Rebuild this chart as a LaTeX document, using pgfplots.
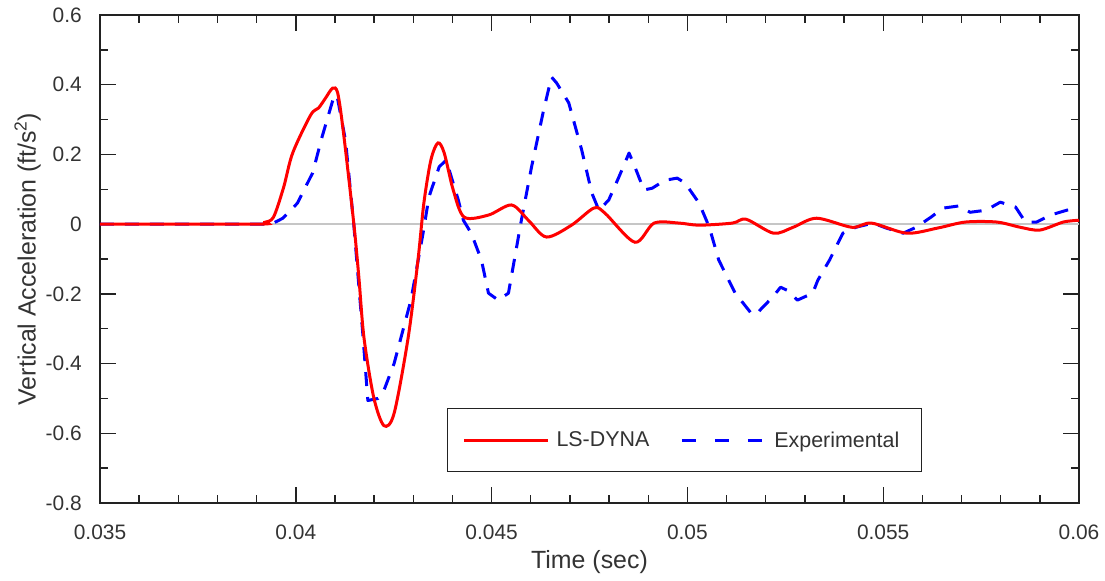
\documentclass[border=0pt]{standalone}
\usepackage{pgfplots}
\pgfplotsset{compat=1.18}
\usepackage{fontspec}
\setmainfont{Liberation Sans}
\definecolor{txt}{HTML}{333333}
\definecolor{axc}{HTML}{222222}
\begin{document}
\begin{tikzpicture}
\useasboundingbox (-100bp,-78bp) rectangle (1005bp,503bp);
\begin{axis}[
  scale only axis,
  width=979bp, height=488bp,
  at={(0,0)}, anchor=south west,
  xmin=0.035, xmax=0.06, ymin=-0.8, ymax=0.6,
  scaled x ticks=false, scaled y ticks=false,
  xtick={0.035,0.04,0.045,0.05,0.055,0.06},
  xticklabels={0.035,0.04,0.045,0.05,0.055,0.06},
  ytick={-0.8,-0.6,-0.4,-0.2,0,0.2,0.4,0.6},
  yticklabels={-0.8,-0.6,-0.4,-0.2,0,0.2,0.4,0.6},
  minor x tick num=4, minor y tick num=1,
  tick align=inside,
  xtick pos=both, ytick pos=both,
  xticklabel pos=left, yticklabel pos=left,
  major tick length=16bp, minor tick length=8bp,
  every tick/.style={axc, line width=1.4bp},
  axis line style={axc, line width=2bp},
  ticklabel style={inner sep=0pt, font=\fontsize{21}{24}\selectfont, text=txt},
  xticklabel style={anchor=north, yshift=-22bp},
  yticklabel style={anchor=east, xshift=-18bp},
  xlabel={Time (sec)},
  ylabel={Vertical Acceleration (ft/s\textsuperscript{2})},
  label style={font=\fontsize{25}{28}\selectfont, text=txt},
  xlabel style={at={(axis description cs:0.5,-0.121)}, anchor=center},
  ylabel style={at={(axis description cs:-0.074,0.5)}, anchor=center, rotate=0},
  legend columns=2,
  legend style={at={(axis description cs:0.597,0.129)}, anchor=center,
    draw=axc, line width=1.2bp, fill=white,
    font=\fontsize{21.5}{24}\selectfont, text=txt,
    inner xsep=15bp, inner ysep=16bp,
    nodes={inner sep=7bp},
    /tikz/every even column/.append style={column sep=24bp}},
  legend image code/.code={\draw[#1] (0bp,0bp) -- (84bp,0bp);},
]
\addplot[gray!45, line width=1.3bp, forget plot] coordinates {(0.035,0) (0.06,0)};

\addplot[blue, line width=3bp, dash pattern=on 14bp off 11bp, line join=round, forget plot] coordinates {
(0.035,0) (0.0392,0) (0.03943,0.003) (0.03967,0.017) (0.04004,0.06) (0.04043,0.147)
(0.04067,0.25) (0.04097,0.365) (0.04105,0.37) (0.04127,0.24) (0.04148,0)
(0.04171,-0.313) (0.04184,-0.506) (0.0421,-0.5) (0.04225,-0.477) (0.04251,-0.4)
(0.04294,-0.218) (0.04325,-0.026) (0.0434,0.078) (0.04366,0.164) (0.04384,0.184)
(0.04415,0.069) (0.04428,0.011) (0.04448,-0.026) (0.04474,-0.103) (0.04492,-0.198)
(0.04517,-0.218) (0.04543,-0.198) (0.04576,0.011) (0.04602,0.164) (0.04633,0.328)
(0.04653,0.422) (0.04666,0.405) (0.04697,0.348) (0.0473,0.213) (0.04756,0.089)
(0.04774,0.04) (0.04799,0.069) (0.04825,0.135) (0.04851,0.204) (0.04866,0.164)
(0.04889,0.098) (0.0491,0.103) (0.04943,0.126) (0.04974,0.132) (0.04994,0.118)
(0.0503,0.06) (0.05056,-0.009) (0.0508,-0.103) (0.05122,-0.198) (0.05166,-0.26)
(0.0518,-0.253) (0.05217,-0.21) (0.05238,-0.181) (0.05255,-0.19) (0.05281,-0.218)
(0.0532,-0.198) (0.05333,-0.161) (0.05363,-0.103) (0.05397,-0.026) (0.0543,-0.009)
(0.05474,0.003) (0.05507,-0.011) (0.05551,-0.026) (0.05584,-0.009) (0.05622,0.02)
(0.05653,0.046) (0.05692,0.052) (0.05722,0.034) (0.05763,0.04) (0.05799,0.063)
(0.05838,0.049) (0.05863,0.006) (0.05892,0.006) (0.05927,0.026) (0.05969,0.04)
(0.06,0.046)
};

\addplot[red, line width=3bp, smooth, tension=0.5] coordinates {
(0.035,0) (0.039,0) (0.0392,0.005) (0.03943,0.02) (0.03969,0.106) (0.03992,0.204)
(0.04038,0.313) (0.04058,0.333) (0.04075,0.36) (0.04094,0.39) (0.04107,0.376)
(0.04122,0.26) (0.04148,0.003) (0.04161,-0.152) (0.04174,-0.325) (0.04199,-0.497)
(0.04225,-0.578) (0.04251,-0.543) (0.04287,-0.325) (0.04312,-0.103) (0.04327,0.06)
(0.04345,0.184) (0.04363,0.233) (0.04379,0.204) (0.04402,0.098) (0.0443,0.02)
(0.04492,0.026) (0.04551,0.055) (0.04594,0.011) (0.0464,-0.037) (0.04704,-0.003)
(0.04761,0.046) (0.04789,0.032) (0.04866,-0.052) (0.04915,0.003) (0.04979,0.003)
(0.0503,-0.003) (0.05115,0.003) (0.0515,0.014) (0.0522,-0.026) (0.0527,-0.009)
(0.0533,0.017) (0.0542,-0.009) (0.0547,0.003) (0.0556,-0.026) (0.0564,-0.011)
(0.0571,0.006) (0.0579,0.006) (0.0585,-0.009) (0.059,-0.017) (0.0596,0.006)
(0.06,0.011)
};
\addlegendentry{LS-DYNA}
\addlegendimage{blue, line width=3bp, dash pattern=on 14bp off 19bp}
\addlegendentry{Experimental}
\end{axis}
\end{tikzpicture}
\end{document}
